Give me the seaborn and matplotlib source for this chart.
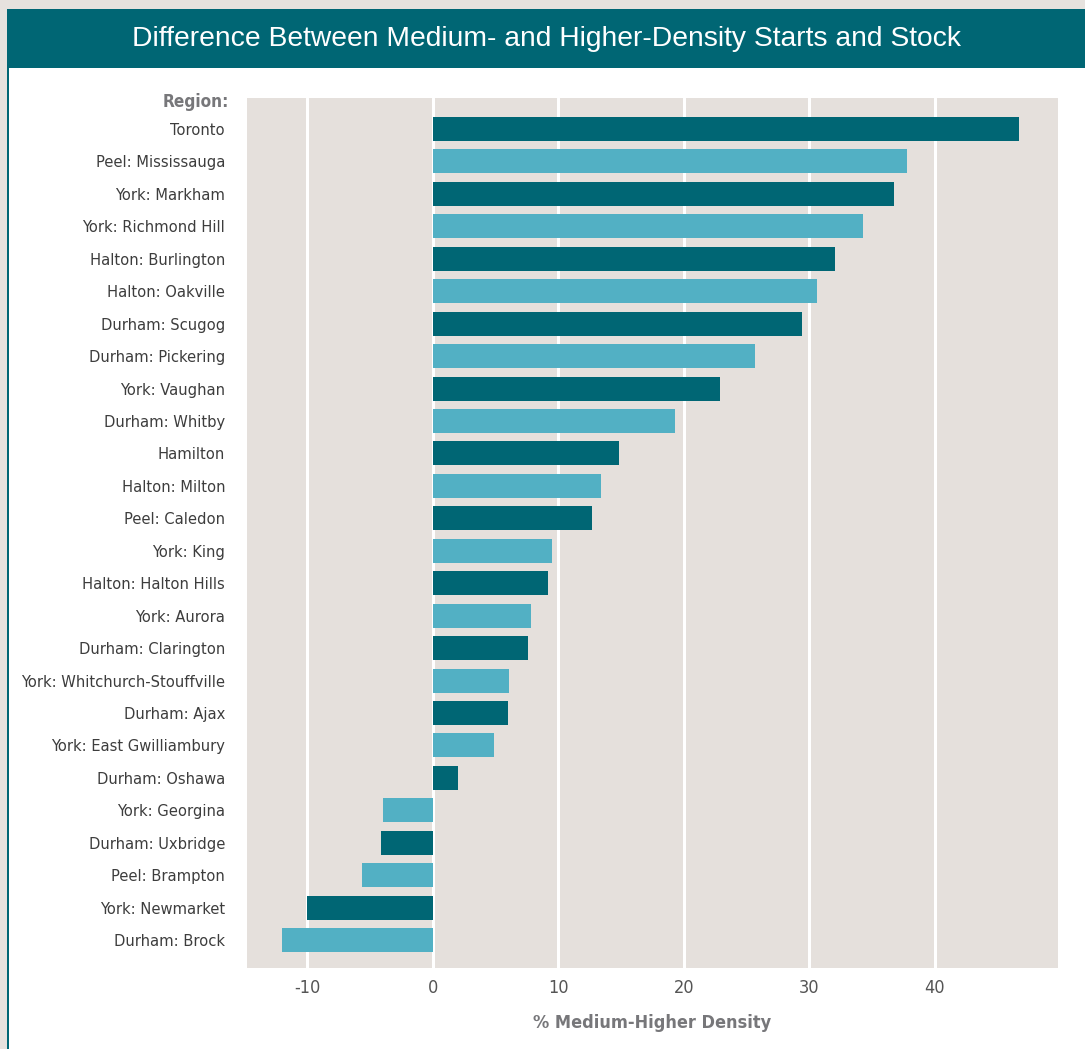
import matplotlib
matplotlib.use("Agg")
import matplotlib.pyplot as plt
from matplotlib.patches import Rectangle
import seaborn as sns
import pandas as pd

regions = [
    "Toronto", "Peel: Mississauga", "York: Markham", "York: Richmond Hill",
    "Halton: Burlington", "Halton: Oakville", "Durham: Scugog", "Durham: Pickering",
    "York: Vaughan", "Durham: Whitby", "Hamilton", "Halton: Milton",
    "Peel: Caledon", "York: King", "Halton: Halton Hills", "York: Aurora",
    "Durham: Clarington", "York: Whitchurch-Stouffville", "Durham: Ajax",
    "York: East Gwilliambury", "Durham: Oshawa", "York: Georgina",
    "Durham: Uxbridge", "Peel: Brampton", "York: Newmarket", "Durham: Brock",
]
values = [
    46.7, 37.8, 36.7, 34.3, 32.0, 30.6, 29.4, 25.7, 22.9, 19.3, 14.8, 13.4,
    12.7, 9.5, 9.2, 7.8, 7.6, 6.1, 6.0, 4.9, 2.0, -4.0, -4.1, -5.6, -10.0, -12.0,
]
x_ticks = [-10, 0, 10, 20, 30, 40]

TEAL_DARK = "#006674"
TEAL_LIGHT = "#52B0C4"
PANEL = "#E5E0DC"
BG = "#E6E2DE"

df = pd.DataFrame({"region": regions, "value": values})
palette = [TEAL_DARK if i % 2 == 0 else TEAL_LIGHT for i in range(len(regions))]

sns.set_theme(style="white")
plt.rcParams["font.family"] = ["DejaVu Sans"]
plt.rcParams["font.stretch"] = "condensed"

W, H = 1085, 1049
fig = plt.figure(figsize=(W / 100, H / 100), dpi=100, facecolor=BG)

# white card with teal left rule and teal title banner
card = dict(transform=fig.transFigure, edgecolor="none", zorder=-5)
fig.patches.append(Rectangle((9 / W, 0), (W - 9) / W, (H - 68) / H,
                             facecolor="white", **card))
fig.patches.append(Rectangle((7 / W, 0), 2 / W, (H - 9) / H,
                             facecolor=TEAL_DARK, **card))
fig.patches.append(Rectangle((7 / W, (H - 68) / H), (W - 7) / W, 59 / H,
                             facecolor=TEAL_DARK, **card))
fig.text(546 / W, 1 - 39 / H,
         "Difference Between Medium- and Higher-Density Starts and Stock",
         ha="center", va="center", color="white", fontsize=20.3,
         family=["Liberation Sans", "DejaVu Sans"], fontstretch="normal")

ax = fig.add_axes([247 / W, 1 - 968 / H, (1058 - 247) / W, (968 - 98) / H])
ax.set_facecolor(PANEL)

sns.barplot(data=df, x="value", y="region", hue="region", palette=palette,
            legend=False, width=0.74, saturation=1, linewidth=0,
            edgecolor="none", ax=ax, zorder=3)

ax.set_xlim(-14.8, 49.8)
ax.set_ylim(len(regions) - 1 + 0.86, -0.955)
ax.set_xticks(x_ticks)
ax.set_xticklabels([str(t) for t in x_ticks])
ax.grid(axis="x", color="white", linewidth=2.2, zorder=1)
ax.grid(axis="y", visible=False)
ax.set_axisbelow(True)
for s in ax.spines.values():
    s.set_visible(False)

ax.tick_params(axis="y", length=0, pad=15.8, labelsize=11.8, labelcolor="#3d3d3d")
ax.tick_params(axis="x", length=0, pad=8, labelsize=13, labelcolor="#555555")
ax.set_ylabel("")
ax.set_xlabel("% Medium-Higher Density", fontsize=13, fontweight="bold",
              color="#77777a", labelpad=12)

fig.text(229 / W, 1 - 102 / H, "Region:", ha="right", va="center",
         fontsize=12.3, fontweight="bold", color="#77777a")

fig.savefig("out.png", dpi=100, facecolor=BG)
